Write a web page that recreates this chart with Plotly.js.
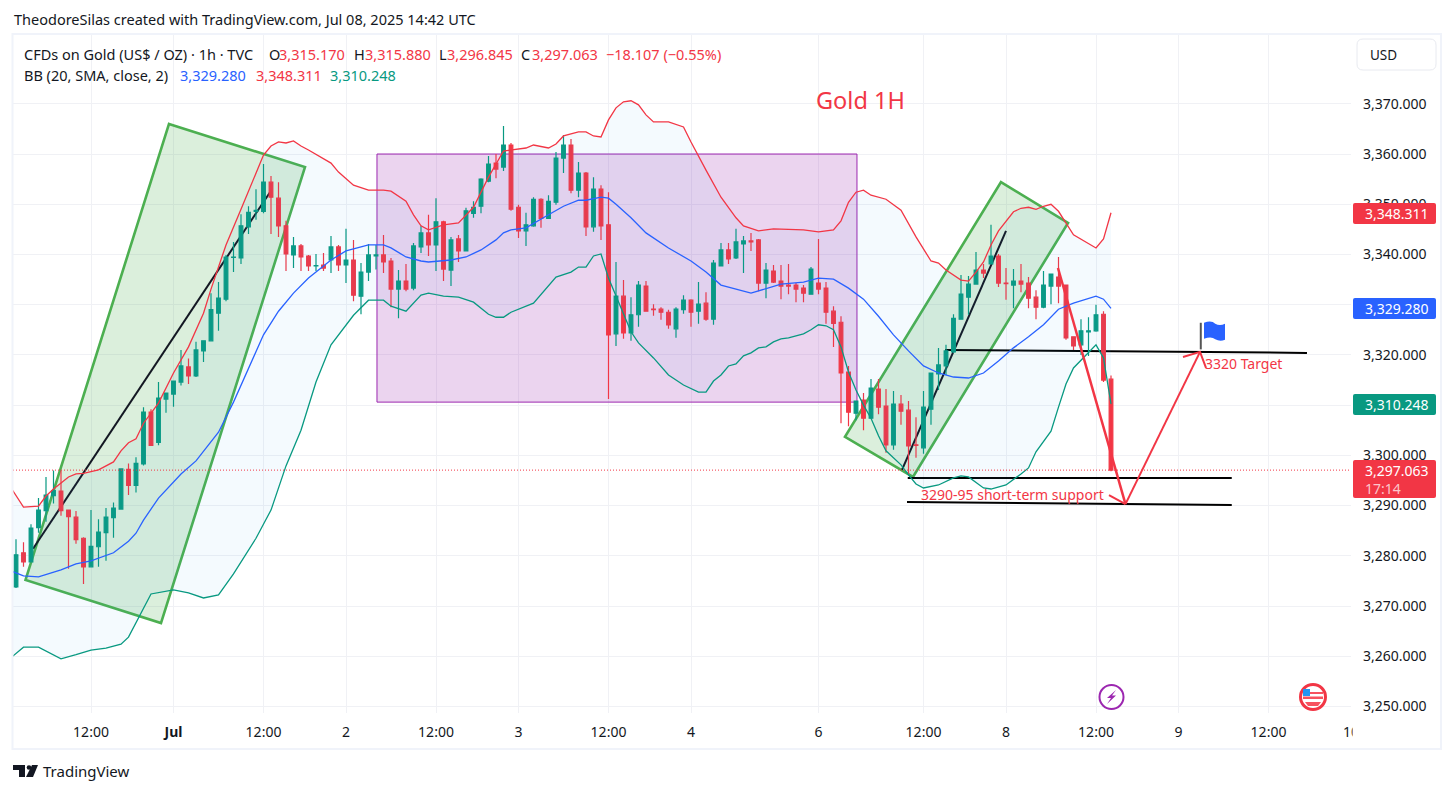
<!DOCTYPE html>
<html>
<head>
<meta charset="utf-8">
<script src="https://cdn.plot.ly/plotly-3.0.1.min.js"></script>
<style>
  html, body { margin: 0; padding: 0; background: #fff; overflow: hidden; }
  #chart { width: 1455px; height: 793px; }
</style>
</head>
<body>
<div id="chart"></div>
<script>
var opens = [3273.8,3280.6,3278.8,3285.6,3289.0,3292.0,3292.9,3289.1,3287.7,3283.5,
  3277.8,3281.8,3284.6,3287.6,3289.3,3297.2,3294.0,3298.3,3308.6,3302.6,
  3311.2,3312.2,3314.6,3317.6,3315.8,3320.8,3322.8,3328.3,3331.1,3339.4,
  3339.3,3345.5,3348.6,3348.6,3354.4,3351.2,3345.7,3339.9,3341.7,3339.7,
  3337.7,3337.9,3338.9,3341.5,3337.9,3338.9,3331.7,3336.5,3339.7,3339.9,
  3338.7,3333.1,3334.7,3333.3,3341.5,3344.3,3341.9,3346.5,3336.9,3343.1,
  3340.7,3348.2,3349.6,3354.6,3358.2,3357.4,3361.8,3349.4,3344.7,3345.7,
  3351.0,3347.2,3350.4,3359.2,3361.8,3352.8,3356.2,3345.5,3353.0,3345.9,
  3324.2,3331.7,3324.4,3328.0,3333.7,3329.1,3329.1,3328.5,3325.2,3329.0,
  3330.9,3328.7,3330.3,3327.1,3337.7,3340.9,3339.3,3342.1,3342.7,3342.9,
  3334.3,3336.7,3334.7,3333.9,3333.9,3333.3,3332.1,3334.3,3333.3,3328.7,
  3326.5,3316.6,3308.4,3311.0,3307.4,3313.2,3309.8,3302.1,3310.2,3309.0,
  3302.1,3301.5,3309.2,3316.2,3317.8,3320.6,3327.1,3331.5,3334.1,3336.9,
  3338.1,3339.7,3334.3,3333.9,3334.7,3334.3,3331.5,3329.5,3333.7,3335.5,
  3333.9,3323.6,3322.0,3324.6,3324.8,3328.1,3315.17];
var highs = [3283.3,3282.7,3286.3,3291.5,3295.7,3297.0,3297.0,3289.1,3288.9,3283.7,
  3289.1,3287.3,3289.5,3290.6,3297.4,3298.4,3299.6,3309.6,3309.2,3314.6,
  3312.4,3314.8,3321.0,3319.3,3322.6,3322.9,3332.3,3334.5,3339.9,3342.5,
  3348.0,3349.6,3353.0,3358.0,3355.6,3354.4,3346.7,3343.5,3342.1,3339.9,
  3340.1,3340.3,3343.7,3341.9,3345.1,3342.9,3338.3,3342.1,3341.9,3343.9,
  3339.3,3336.9,3338.1,3342.3,3345.7,3347.9,3351.2,3346.7,3343.5,3343.9,
  3349.3,3350.6,3355.2,3359.6,3360.0,3365.6,3362.2,3349.9,3348.3,3351.4,
  3351.2,3351.8,3360.4,3363.8,3363.0,3358.4,3356.4,3355.4,3353.8,3352.4,
  3338.5,3334.9,3331.5,3334.7,3334.7,3330.1,3329.5,3329.0,3329.5,3331.9,
  3331.1,3334.5,3332.5,3338.9,3342.3,3342.3,3345.1,3343.7,3344.3,3343.1,
  3338.3,3337.9,3337.9,3338.1,3334.3,3333.9,3337.5,3343.1,3334.5,3329.7,
  3327.7,3317.8,3310.8,3312.4,3315.2,3315.2,3313.2,3312.8,3312.0,3310.8,
  3307.6,3312.8,3316.4,3321.4,3322.0,3328.1,3335.9,3335.7,3340.5,3338.1,
  3345.9,3340.1,3337.3,3337.1,3338.1,3335.5,3332.9,3336.7,3336.1,3339.5,
  3333.9,3323.6,3327.1,3327.5,3330.0,3328.7,3315.88];
var lows = [3273.6,3277.8,3278.7,3284.6,3286.8,3290.4,3288.0,3277.4,3282.4,3274.4,
  3277.8,3277.8,3279.0,3283.6,3289.3,3292.1,3292.6,3298.0,3301.9,3302.0,
  3308.5,3309.7,3313.9,3314.2,3315.6,3318.6,3322.8,3324.8,3330.7,3336.5,
  3338.1,3344.1,3346.9,3348.2,3344.1,3343.5,3336.7,3337.3,3336.7,3336.7,
  3336.7,3336.7,3336.3,3336.7,3334.3,3330.7,3328.1,3334.7,3337.0,3336.3,
  3329.5,3327.3,3332.7,3332.9,3340.3,3339.7,3336.7,3334.7,3333.7,3338.5,
  3340.7,3347.3,3348.2,3354.4,3355.2,3356.6,3348.7,3343.3,3341.7,3345.5,
  3345.3,3347.2,3349.9,3356.2,3352.2,3351.4,3343.7,3344.5,3342.9,3311.2,
  3321.8,3323.2,3322.8,3325.6,3328.7,3327.8,3327.0,3325.2,3323.4,3328.2,
  3325.6,3326.2,3326.8,3326.0,3337.7,3338.1,3339.1,3336.3,3340.7,3332.7,
  3331.3,3334.3,3331.1,3332.1,3330.5,3330.5,3332.1,3332.1,3326.2,3321.6,
  3306.4,3305.8,3307.0,3305.0,3307.4,3308.2,3300.5,3301.1,3306.1,3296.1,
  3299.5,3300.3,3306.1,3313.0,3316.0,3320.4,3327.1,3328.0,3334.1,3335.3,
  3338.1,3333.5,3331.0,3329.3,3332.5,3329.3,3327.1,3329.3,3330.1,3330.3,
  3323.0,3321.0,3320.0,3319.8,3324.6,3314.6,3296.845];
var closes = [3280.2,3278.8,3285.5,3289.1,3292.1,3293.0,3289.0,3287.8,3283.2,3277.8,
  3281.9,3284.7,3287.7,3289.5,3297.3,3294.0,3298.4,3308.6,3302.0,3311.4,
  3312.4,3314.8,3317.8,3315.8,3321.0,3322.8,3329.0,3331.3,3339.5,3339.5,
  3345.7,3348.4,3348.8,3354.4,3351.4,3345.7,3340.1,3341.7,3339.5,3337.7,
  3337.8,3337.3,3341.5,3337.9,3338.9,3331.9,3336.5,3339.9,3339.9,3338.5,
  3333.1,3334.7,3333.1,3341.7,3344.3,3341.9,3346.5,3337.1,3342.9,3340.7,
  3348.7,3349.4,3355.0,3358.0,3357.0,3361.8,3349.0,3344.7,3345.9,3351.0,
  3347.2,3350.6,3359.2,3361.8,3352.8,3356.2,3345.5,3353.0,3345.7,3324.0,
  3331.7,3324.4,3328.0,3333.9,3328.7,3329.0,3328.5,3326.0,3329.1,3330.9,
  3328.5,3330.1,3327.1,3338.3,3340.9,3339.1,3342.5,3342.7,3342.5,3334.3,
  3336.9,3334.5,3333.7,3333.7,3333.1,3332.3,3337.1,3333.1,3328.5,3326.3,
  3316.4,3308.6,3310.8,3307.4,3313.4,3309.6,3302.1,3310.2,3308.8,3301.9,
  3302.0,3309.6,3316.4,3318.0,3320.8,3327.3,3332.1,3334.1,3336.9,3336.3,
  3339.7,3334.3,3334.2,3334.7,3334.1,3331.3,3329.5,3333.9,3336.1,3333.7,
  3323.4,3321.8,3324.8,3324.8,3328.0,3315.0,3297.063];

// bollinger bands, read at the bars where the line visibly bends
var upperBars = [-1,1,3,4,5,7,8,9,11,13,14,15,16,17,19,21,23,25,26,28,30,32,33,34,35,36,37,38,39,42,43,45,47,49,50,52,53,54,55,57,59,61,63,65,68,69,71,72,73,75,76,77,78,79,80,81,82,83,84,85,87,89,90,92,94,96,97,99,101,105,107,109,110,111,112,113,114,116,118,120,122,123,124,126,127,128,129,130,131,133,134,135,136,137,138,139,141,144,145,146];
var upperVals = [3294.3,3289.7,3289.9,3291.9,3293.3,3295.7,3296.3,3296.4,3297.1,3298.7,3300.9,3302.5,3303.3,3306.4,3310.4,3316.4,3321.6,3328.3,3333.1,3341.9,3349,3356.4,3359.8,3361.6,3362.4,3362.2,3362.6,3361.6,3360.8,3358.2,3356.4,3353.8,3352.8,3352.8,3352.6,3350.6,3347.9,3345.7,3344.9,3345.9,3346.3,3349.4,3355.4,3360.6,3361.2,3361.8,3361.2,3362,3363.6,3364.4,3364.4,3363.6,3363.4,3366.8,3369.2,3370.4,3370.6,3369.8,3367.8,3366.4,3366.4,3365.4,3362.4,3356.8,3351.4,3347.3,3345.7,3344.7,3345.1,3344.9,3344.5,3344.9,3346.7,3350.4,3352.4,3352.8,3351.8,3351,3348.8,3343.5,3338.7,3338.3,3336.9,3334.9,3334.7,3336.5,3338.5,3341.9,3344.7,3348.5,3349.2,3349.4,3349,3349.6,3350,3348.6,3343.9,3341.3,3343.1,3348.311];
var basisBars = [-1,1,3,6,8,10,13,15,16,17,19,22,24,27,29,31,33,35,37,39,42,44,47,49,50,52,54,55,58,60,62,64,65,66,68,71,73,75,76,78,79,80,82,84,87,90,92,94,96,98,102,105,107,109,111,113,115,117,119,121,123,125,127,129,131,133,135,137,139,141,144,145,146];
var basisVals = [3277.2,3276,3275.8,3277.2,3278.4,3279,3280.6,3282.9,3284.5,3287.1,3291.5,3296.3,3298.9,3304.6,3310.6,3317.2,3324,3328.7,3332.3,3335.3,3338.9,3340.7,3341.9,3341.9,3341.3,3339.5,3338.7,3338.5,3338.9,3339.5,3340.9,3342.9,3344.3,3344.9,3345.3,3347.9,3349.6,3350.8,3350.8,3351.4,3351.2,3350,3347.3,3344.3,3341.3,3338.7,3336.5,3333.9,3333.1,3332.3,3334.1,3334.5,3335.3,3335.1,3333.3,3331.1,3327.7,3324,3320.8,3317.8,3316.4,3315.6,3315.4,3316.4,3318.8,3321.4,3323.6,3326,3329.1,3330.3,3331.7,3331.1,3329.28];
var lowerBars = [-1,1,3,6,8,10,12,14,15,17,18,21,23,25,27,29,32,34,36,38,40,42,44,45,47,49,50,52,54,55,57,59,61,63,64,65,66,69,72,74,75,76,77,78,79,80,81,82,83,85,87,89,91,92,93,94,95,96,97,98,99,100,101,102,103,105,106,107,108,109,110,111,112,113,114,115,116,117,118,119,120,121,123,125,126,127,129,130,132,134,135,136,138,139,140,141,144,145,146];
var lowerVals = [3259.3,3261.8,3261.8,3259.5,3260.3,3261.2,3261.6,3262.4,3263.8,3269.6,3272.4,3273.2,3272.6,3271.6,3272.2,3276.4,3283.5,3289.1,3297.9,3305,3314.6,3322,3325.8,3327.9,3330.9,3330.9,3329.7,3328.7,3331.9,3332.3,3331.7,3331.5,3330.5,3328.1,3327.5,3327.5,3328.5,3330.3,3335.5,3336.5,3337.5,3337.5,3339.7,3340.1,3335.3,3331.7,3327.9,3324.6,3322.4,3319.4,3316,3314,3312.6,3312.6,3314.8,3316,3317.8,3318.2,3319.8,3320.4,3321.4,3321.6,3322.6,3323.2,3323.4,3324.2,3325,3326,3325.8,3325,3321.6,3316.6,3313,3310,3307.4,3303.9,3300.9,3299.5,3298.1,3296.1,3294.3,3293.5,3294.1,3295.5,3295.9,3295.7,3293.5,3293.3,3294.1,3296.3,3297.5,3300.7,3304.8,3309.6,3314.2,3317.4,3322,3319.4,3310.248];

var xTickBars = [10,21,33,44,56,67,79,90,107,121,132,144,155,167,178];
var xTickText = ['12:00','<b>Jul</b>','12:00','2','12:00','3','12:00','4','6','12:00','8','12:00','9','12:00','10'];
var yTicks = [3250,3260,3270,3280,3290,3300,3310,3320,3330,3340,3350,3360,3370];
// 3,310 and 3,330 sit behind the price tags and are not shown in the scale
var yTickText = ['3,250.000','3,260.000','3,270.000','3,280.000','3,290.000','3,300.000','','3,320.000','','3,340.000','3,350.000','3,360.000','3,370.000'];

var barIdx = opens.map(function(v, i){ return i; });

var RED = '#f23645', GREEN = '#089981', BLUE = '#2962ff', FONT = 'Noto Sans, sans-serif', INK = '#131722';
var HEAD = 14.5;

// page pixels to paper coordinates
var L = 13, R = 1351, T = 35, B = 713;
function X(px){ return (px - L) / (R - L); }
function Y(py){ return (B - py) / (B - T); }

function pathOf(points, close){
  return points.map(function(p, i){ return (i ? 'L ' : 'M ') + p[0] + ' ' + p[1]; }).join(' ') + (close ? ' Z' : '');
}
function paperPath(points){
  return pathOf(points.map(function(p){ return [X(p[0]), Y(p[1])]; }), true);
}
function roundBox(x0, y0, x1, y1, r){
  var p = function(x, y){ return X(x) + ' ' + Y(y); };
  return 'M ' + p(x0 + r, y0) + ' L ' + p(x1 - r, y0) + ' Q ' + p(x1, y0) + ' ' + p(x1, y0 + r) +
    ' L ' + p(x1, y1 - r) + ' Q ' + p(x1, y1) + ' ' + p(x1 - r, y1) +
    ' L ' + p(x0 + r, y1) + ' Q ' + p(x0, y1) + ' ' + p(x0, y1 - r) +
    ' L ' + p(x0, y0 + r) + ' Q ' + p(x0, y0) + ' ' + p(x0 + r, y0) + ' Z';
}
function paperShape(path, fill, lineColor, lineWidth){
  return {type: 'path', xref: 'paper', yref: 'paper', layer: 'above', path: path,
    fillcolor: fill, line: {color: lineColor || 'rgba(0,0,0,0)', width: lineWidth || 0}};
}
function circle(cx, cy, r, fill, lineColor, lineWidth){
  return {type: 'circle', xref: 'paper', yref: 'paper', layer: 'above',
    x0: X(cx - r), x1: X(cx + r), y0: Y(cy + r), y1: Y(cy - r),
    fillcolor: fill, line: {color: lineColor, width: lineWidth}};
}
function drawn(points, lineColor, width, fill, layer){
  return {type: 'path', xref: 'x', yref: 'y', layer: layer || 'between', path: pathOf(points, !!fill),
    fillcolor: fill || 'rgba(0,0,0,0)', line: {color: lineColor, width: width}};
}
function label(text, px, py, size, color, anchor){
  return {xref: 'paper', yref: 'paper', x: X(px), y: Y(py), text: text, showarrow: false,
    xanchor: anchor || 'left', yanchor: 'middle', borderpad: 0,
    font: {family: FONT, size: size, color: color}};
}

var traces = [
  {type: 'scatter', mode: 'lines', hoverinfo: 'skip', showlegend: false,
    x: upperBars.concat(lowerBars.slice().reverse()),
    y: upperVals.concat(lowerVals.slice().reverse()),
    fill: 'toself', fillcolor: 'rgba(33,150,243,0.05)', line: {width: 0}},
  {type: 'scatter', mode: 'lines', x: upperBars, y: upperVals, line: {color: RED, width: 1.3}, hoverinfo: 'skip', showlegend: false},
  {type: 'scatter', mode: 'lines', x: basisBars, y: basisVals, line: {color: BLUE, width: 1.3}, hoverinfo: 'skip', showlegend: false},
  {type: 'scatter', mode: 'lines', x: lowerBars, y: lowerVals, line: {color: GREEN, width: 1.3}, hoverinfo: 'skip', showlegend: false},
  {type: 'candlestick', x: barIdx, open: opens, high: highs, low: lows, close: closes,
    whiskerwidth: 0, hoverinfo: 'skip', showlegend: false,
    increasing: {line: {color: GREEN, width: 1.2}, fillcolor: GREEN},
    decreasing: {line: {color: RED, width: 1.2}, fillcolor: RED}}
];

var shapes = [
  // drawings on the chart, in bar index / price
  drawn([[20.4,3366],[38.53,3357.4],[19.33,3266.6],[1.27,3275.2]], '#4caf50', 2.6, 'rgba(76,175,80,0.2)'),
  drawn([[48.13,3360],[112.13,3360],[112.13,3310.6],[48.13,3310.6]], '#9c27b0', 1, 'rgba(156,39,176,0.2)'),
  drawn([[131.33,3354.4],[140.27,3346.3],[119.6,3295.7],[110.53,3303.7]], '#4caf50', 2.6, 'rgba(76,175,80,0.2)'),
  drawn([[2.27,3281.4],[33.87,3352.4]], '#131722', 2),
  drawn([[118.13,3297.1],[132,3344.7]], '#131722', 2),
  drawn([[123.87,3321],[172.13,3320.4]], '#000', 2),
  drawn([[118.9,3295.5],[162.1,3295.5]], '#000', 2),
  drawn([[118.8,3290.7],[162.1,3290.1]], '#000', 2),
  {type: 'line', xref: 'paper', yref: 'y', layer: 'above', x0: 0, x1: 1, y0: 3297.063, y1: 3297.063,
    line: {color: RED, width: 1, dash: '1px,2px'}},
  drawn([[138.93,3337.3],[147.93,3290.3]], RED, 2.5, null, 'above'),
  drawn([[147.93,3290.3],[157.87,3320.6]], RED, 2, null, 'above'),
  drawn([[145.73,3292.1],[147.93,3290.3]], RED, 2, null, 'above'),
  drawn([[155.6,3319.6],[157.87,3320.6],[158.67,3317.4]], RED, 2, null, 'above'),
  // flag
  drawn([[157.97,3326.4],[157.97,3321.1]], '#555', 2, null, 'above'),
  {type: 'path', xref: 'x', yref: 'y', layer: 'above', fillcolor: BLUE, line: {color: BLUE, width: 0},
    path: 'M 158.4 3326.4 Q 159.4 3327 159.9 3326.2 Q 160.5 3325.7 161.2 3326.2 L 161.2 3323 Q 160.5 3322.6 159.9 3323.1 Q 159.4 3323.8 158.4 3323.2 Z'},
  // frame and price scale furniture
  {type: 'rect', xref: 'paper', yref: 'paper', layer: 'above', x0: X(12.5), x1: X(1441), y0: Y(749), y1: Y(34),
    line: {color: '#f0f3fa', width: 2}},
  paperShape(roundBox(1357, 39, 1436, 70, 6), '#fff', '#e8eaf0', 1),
  paperShape(roundBox(1353, 203, 1436, 224, 2), RED),
  paperShape(roundBox(1353, 298, 1436, 319, 2), BLUE),
  paperShape(roundBox(1353, 394, 1436, 415, 2), GREEN),
  paperShape(roundBox(1353, 460, 1436, 498, 2), RED),
  // lightning event marker
  circle(1111.5, 697, 12, '#fff', '#9c27b0', 2),
  paperShape(paperPath([[1116,690],[1107,698],[1111,698],[1107,704],[1116,695.5],[1112,695.5]]), '#9c27b0'),
  // US event marker
  circle(1313, 697, 12.5, '#fff', RED, 3),
  paperShape(paperPath([[1303,689],[1310,689],[1310,696],[1303,696]]), '#2196f3'),
  paperShape(paperPath([[1310,692],[1323,692],[1323,694],[1310,694]]), '#f7525f'),
  paperShape(paperPath([[1303,696.5],[1323,696.5],[1323,699],[1303,699]]), '#f7525f'),
  paperShape(paperPath([[1305,702],[1321,702],[1318,706],[1308,706]]), '#f7525f'),
  // TradingView logo
  paperShape(paperPath([[13,765],[25,765],[25,777],[19,777],[19,770],[13,770]]), INK),
  circle(29, 767.5, 2.3, INK, INK, 0),
  paperShape(paperPath([[32,765],[38,765],[33,777],[26,777]]), INK)
];

var annotations = [
  label('TheodoreSilas created with TradingView.com, Jul 08, 2025 14:42 UTC', 13, 19, HEAD, INK),
  label('CFDs on Gold (US$ / OZ) · 1h · TVC', 23, 54, HEAD, INK),
  label('O', 268, 54, HEAD, INK),
  label('3,315.170', 278, 54, HEAD, RED),
  label('H', 353, 54, HEAD, INK),
  label('3,315.880', 364, 54, HEAD, RED),
  label('L', 438, 54, HEAD, INK),
  label('3,296.845', 446, 54, HEAD, RED),
  label('C', 520, 54, HEAD, INK),
  label('3,297.063', 531, 54, HEAD, RED),
  label('−18.107 (−0.55%)', 605, 54, HEAD, RED),
  label('BB (20, SMA, close, 2)', 23, 75, HEAD, INK),
  label('3,329.280', 179, 75, HEAD, BLUE),
  label('3,348.311', 255, 75, HEAD, RED),
  label('3,310.248', 329, 75, HEAD, GREEN),
  label('USD', 1369, 55, 13.5, INK),
  label('Gold 1H', 815, 100, 23.5, RED),
  label('3320 Target', 1204, 363, 14, RED),
  label('3290-95 short-term support', 920, 494, 14, RED),
  label('3,348.311', 1364, 213.5, 14, '#fff'),
  label('3,329.280', 1364, 308.5, 14, '#fff'),
  label('3,310.248', 1364, 404.5, 14, '#fff'),
  label('3,297.063', 1364, 470, 14, '#fff'),
  label('17:14', 1364, 488, 14, '#fcc6cb'),
  label('TradingView', 42, 771, 15, INK)
];

var layout = {
  width: 1455,
  height: 793,
  margin: {l: L, r: 1455 - R, t: T, b: 793 - B, pad: 0},
  paper_bgcolor: '#fff',
  plot_bgcolor: '#fff',
  showlegend: false,
  font: {family: FONT, size: 13, color: INK},
  xaxis: {
    type: 'linear', range: [-0.4, 178], rangeslider: {visible: false},
    tickmode: 'array', tickvals: xTickBars, ticktext: xTickText, ticks: '', ticklabelstandoff: 9,
    showgrid: true, gridcolor: '#f0f1f5', gridwidth: 1, zeroline: false, showline: false,
    tickfont: {family: FONT, size: 14, color: INK}
  },
  yaxis: {
    side: 'right', range: [3248.7, 3383.7],
    tickmode: 'array', tickvals: yTicks, ticktext: yTickText, ticks: '', ticklabelstandoff: 11,
    showgrid: true, gridcolor: '#f0f1f5', gridwidth: 1, zeroline: false, showline: false,
    tickfont: {family: FONT, size: 14, color: INK}
  },
  shapes: shapes,
  annotations: annotations
};

Plotly.newPlot('chart', traces, layout, {displayModeBar: false, staticPlot: true}).then(function(){
  // the "10" tick runs into the price scale and is cut off there
  var ticks = document.querySelectorAll('.xtick text');
  var last = ticks[ticks.length - 1];
  if (last) last.style.clipPath = 'inset(0 40% 0 0)';
});
</script>
</body>
</html>
